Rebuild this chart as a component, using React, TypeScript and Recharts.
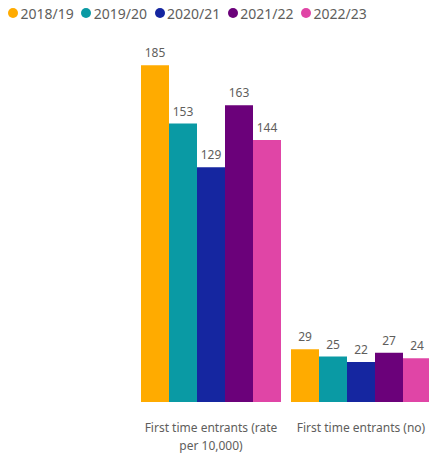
import React from "react";
import { BarChart, Bar, XAxis, YAxis, Legend, LabelList } from "recharts";

const categories = ["First time entrants (rate per 10,000)", "First time entrants (no)"];
const seriesNames = ["2018/19", "2019/20", "2020/21", "2021/22", "2022/23"];
const values2018 = [185, 29];
const values2019 = [153, 25];
const values2020 = [129, 22];
const values2021 = [163, 27];
const values2022 = [144, 24];
const seriesColors = ["#FFAB00", "#0A9AA4", "#1526A0", "#6B017A", "#E045A6"];

const seriesValues = [values2018, values2019, values2020, values2021, values2022];
const data = categories.map((c, i) => {
  const row: Record<string, string | number> = { name: c };
  seriesNames.forEach((s, j) => {
    row[s] = seriesValues[j][i];
  });
  return row;
});

const FONT = "'Noto Sans', 'Segoe UI', sans-serif";
const TEXT_COLOR = "#605E5C";

let ctx: CanvasRenderingContext2D | null = null;
function measure(str: string): number {
  if (!ctx) {
    const c = document.createElement("canvas");
    ctx = c.getContext("2d");
  }
  if (!ctx) return str.length * 6.5;
  ctx.font = "12px 'Noto Sans'";
  return ctx.measureText(str).width;
}

function wrap(str: string, maxWidth: number): string[] {
  const words = str.split(" ");
  const lines: string[] = [];
  let cur = "";
  words.forEach((w) => {
    const test = cur ? cur + " " + w : w;
    if (measure(test) <= maxWidth || !cur) {
      cur = test;
    } else {
      lines.push(cur);
      cur = w;
    }
  });
  if (cur) lines.push(cur);
  return lines;
}

function CustomTick(props: any) {
  const { x, y, payload } = props;
  const lines = wrap(String(payload.value), 146);
  return (
    <text x={x} y={y + 22} textAnchor="middle" fontSize={12} fill={TEXT_COLOR} fontFamily={FONT}>
      {lines.map((l, i) => (
        <tspan key={i} x={x} dy={i === 0 ? 0 : 18}>
          {l}
        </tspan>
      ))}
    </text>
  );
}

function CustomLegend(props: any) {
  const { payload } = props;
  return (
    <div style={{ display: "flex", alignItems: "center", fontFamily: FONT, fontSize: 14, color: TEXT_COLOR, height: 26 }}>
      {(payload || []).map((p: any) => (
        <div key={p.value} style={{ display: "flex", alignItems: "center", marginRight: 7.5 }}>
          <span
            style={{
              display: "inline-block",
              width: 10,
              height: 10,
              borderRadius: 5,
              background: p.color,
              marginRight: 2.5,
            }}
          />
          <span>{p.value}</span>
        </div>
      ))}
    </div>
  );
}

export default function App() {
  return (
    <div style={{ position: "absolute", left: 0, top: 0, width: 429, height: 455, overflow: "hidden", background: "#fff" }}>
      <BarChart
        width={436}
        height={455}
        data={data}
        margin={{ top: 12, right: 0, left: 136, bottom: 0 }}
        barCategoryGap={5}
        barGap={0}
        style={{ fontFamily: FONT }}
      >
        <Legend
          verticalAlign="top"
          align="left"
          content={<CustomLegend />}
          wrapperStyle={{ top: 0, left: 8, height: 26, width: 420 }}
        />
        <XAxis
          dataKey="name"
          axisLine={false}
          tickLine={false}
          height={53}
          interval={0}
          tick={<CustomTick />}
        />
        <YAxis hide domain={[0, 200]} />
        {seriesNames.map((s, j) => (
          <Bar key={s} dataKey={s} fill={seriesColors[j]} isAnimationActive={false}>
            <LabelList dataKey={s} position="top" offset={8} fill={TEXT_COLOR} fontSize={12} fontFamily={FONT} />
          </Bar>
        ))}
      </BarChart>
    </div>
  );
}
